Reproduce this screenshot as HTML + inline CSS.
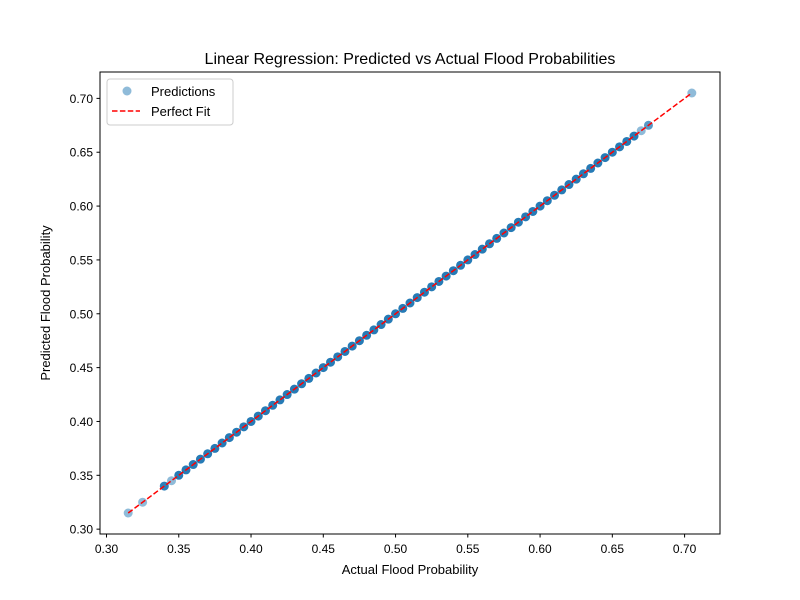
<!DOCTYPE html>
<html><head><meta charset="utf-8">
<style>
html,body{margin:0;padding:0;background:#fff;}
svg{display:block;font-family:"Liberation Sans","DejaVu Sans",sans-serif;}
</style></head>
<body>
<svg id="chart" width="800" height="600" viewBox="0 0 800 600">
<rect width="800" height="600" fill="#fff"/>
<text x="410" y="64" text-anchor="middle" font-size="16">Linear Regression: Predicted vs Actual Flood Probabilities</text>
<g id="marks"></g>
<rect x="100" y="72" width="620" height="462" fill="none" stroke="#000" stroke-width="1"/>
<g id="ticks"></g>
<text x="410" y="574" text-anchor="middle" font-size="13">Actual Flood Probability</text>
<text transform="translate(50,303) rotate(-90)" text-anchor="middle" font-size="13">Predicted Flood Probability</text>
<g>
<rect x="107" y="79" width="126" height="46" rx="3" fill="#fff" fill-opacity="0.8" stroke="#ccc"/>
<g>
<circle cx="127" cy="91" r="4.5" fill="#1f77b4" fill-opacity="0.5"/>
<text x="151" y="96" font-size="13">Predictions</text></g>
<g>
<line x1="112" y1="111" x2="140" y2="111" stroke="red" stroke-width="1.5" stroke-dasharray="5.5,2.4"/>
<text x="151" y="116" font-size="13">Perfect Fit</text></g>
</g>
</svg>
<script>
const actual = [0.315,0.325,0.34,0.345,0.35,0.355,0.36,0.365,0.37,0.375,0.38,0.385,0.39,0.395,0.40,0.405,0.41,0.415,0.42,0.425,0.43,0.435,0.44,0.445,0.45,0.455,0.46,0.465,0.47,0.475,0.48,0.485,0.49,0.495,0.50,0.505,0.51,0.515,0.52,0.525,0.53,0.535,0.54,0.545,0.55,0.555,0.56,0.565,0.57,0.575,0.58,0.585,0.59,0.595,0.60,0.605,0.61,0.615,0.62,0.625,0.63,0.635,0.64,0.645,0.65,0.655,0.66,0.665,0.67,0.675,0.705];
const predicted = [0.315,0.325,0.34,0.345,0.35,0.355,0.36,0.365,0.37,0.375,0.38,0.385,0.39,0.395,0.40,0.405,0.41,0.415,0.42,0.425,0.43,0.435,0.44,0.445,0.45,0.455,0.46,0.465,0.47,0.475,0.48,0.485,0.49,0.495,0.50,0.505,0.51,0.515,0.52,0.525,0.53,0.535,0.54,0.545,0.55,0.555,0.56,0.565,0.57,0.575,0.58,0.585,0.59,0.595,0.60,0.605,0.61,0.615,0.62,0.625,0.63,0.635,0.64,0.645,0.65,0.655,0.66,0.665,0.67,0.675,0.705];
const counts = [1,1,4,1,5,5,5,5,5,5,5,5,5,5,5,5,5,5,5,5,5,5,5,5,5,5,5,5,5,5,5,5,5,5,5,5,5,5,5,5,5,5,5,5,5,5,5,5,5,5,5,5,5,5,5,5,5,5,5,5,5,5,5,5,5,5,5,5,1,2,1];
const xTicks = [0.30,0.35,0.40,0.45,0.50,0.55,0.60,0.65,0.70];
const yTicks = [0.30,0.35,0.40,0.45,0.50,0.55,0.60,0.65,0.70];

const NS="http://www.w3.org/2000/svg";
const lo=Math.min(...actual,...predicted), hi=Math.max(...actual,...predicted);
const pad=(hi-lo)*0.05;
const X0=lo-pad, X1=hi+pad, Y0=lo-pad, Y1=hi+pad;
const sx=v=>100+(v-X0)/(X1-X0)*620;
const sy=v=>534-(v-Y0)/(Y1-Y0)*462;
function mk(tag,attrs,parent){const e=document.createElementNS(NS,tag);for(const k in attrs)e.setAttribute(k,attrs[k]);parent.appendChild(e);return e;}
const marks=document.getElementById('marks');
actual.forEach((a,i)=>{
  const n=counts[i]||1;
  const c=mk('circle',{cx:sx(a),cy:sy(predicted[i]),r:4.5,fill:'#1f77b4','fill-opacity':1-Math.pow(0.5,n)},marks);
  
  
});
const ln=mk('line',{x1:sx(lo),y1:sy(lo),x2:sx(hi),y2:sy(hi),stroke:'red','stroke-width':1.5,'stroke-dasharray':'5.5,2.4'},marks);


const tg=document.getElementById('ticks');
xTicks.forEach(t=>{
  const g=mk('g',{},tg);
  
  
  mk('line',{x1:sx(t),x2:sx(t),y1:534,y2:537.5,stroke:'#000'},g);
  const tx=mk('text',{x:sx(t),y:553,'text-anchor':'middle','font-size':12},g);tx.textContent=t.toFixed(2);
});
yTicks.forEach(t=>{
  const g=mk('g',{},tg);
  
  
  mk('line',{x1:96.5,x2:100,y1:sy(t),y2:sy(t),stroke:'#000'},g);
  const tx=mk('text',{x:93,y:sy(t)+4.5,'text-anchor':'end','font-size':12},g);tx.textContent=t.toFixed(2);
});
</script>
</body></html>
